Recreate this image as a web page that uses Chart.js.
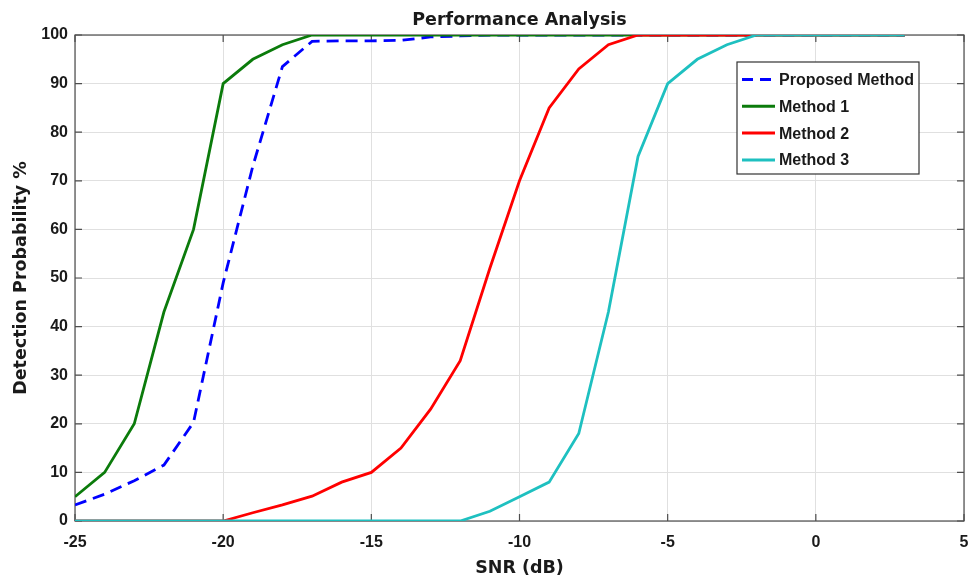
<!DOCTYPE html>
<html><head><meta charset="utf-8">
<script src="https://cdn.jsdelivr.net/npm/chart.js@4.4.1/dist/chart.umd.min.js"></script>
<style>html,body{margin:0;padding:0;background:#fff;}#wrap{width:970px;height:579px;}</style>
</head><body><div id="wrap"><canvas id="c" width="970" height="579"></canvas></div>
<script>
const chartTitle = 'Performance Analysis';
const xTitle = 'SNR (dB)';
const yTitle = 'Detection Probability %';
const seriesNames = ['Proposed Method', 'Method 1', 'Method 2', 'Method 3'];
const snr = [-25,-24,-23,-22,-21,-20,-19,-18,-17,-16,-15,-14,-13,-12,-11,-10,-9,-8,-7,-6,-5,-4,-3,-2,-1,0,1,2,3];
const proposed = [3.3,5.5,8.3,11.5,20.3,49,73,93.5,98.7,98.8,98.8,98.9,99.6,99.8,100,100,100,100,100,100,100,100,100,100,100,100,100,100,100];
const method1  = [5,10,20,43,60,90,95,98,100,100,100,100,100,100,100,100,100,100,100,100,100,100,100,100,100,100,100,100,100];
const method2  = [0,0,0,0,0,0,1.7,3.3,5.1,8,10,15,23,33,52,70,85,93,98,100,100,100,100,100,100,100,100,100,100];
const method3  = [0,0,0,0,0,0,0,0,0,0,0,0,0,0,2,5,8,18,43,75,90,95,98,100,100,100,100,100,100];
const xTicks = [-25,-20,-15,-10,-5,0,5];
const yTicks = [0,10,20,30,40,50,60,70,80,90,100];

const colors = ['#0000ff', '#0b7b0b', '#ff0000', '#1ec0c0'];
const dashes = [[12,7], [], [], []];
const allSeries = [proposed, method1, method2, method3];

const toPts = arr => snr.map((x,i) => ({x, y: arr[i]}));

const frame = {
  id: 'frame',
  beforeDatasetsDraw(chart) {
    const {ctx, chartArea: a, scales: {x, y}} = chart;
    ctx.save();
    ctx.strokeStyle = '#4d4d4d';
    ctx.lineWidth = 1.2;
    ctx.strokeRect(a.left, a.top, a.right - a.left, a.bottom - a.top);
    ctx.beginPath();
    xTicks.forEach(v => {
      const p = x.getPixelForValue(v);
      ctx.moveTo(p, a.bottom); ctx.lineTo(p, a.bottom - 7);
      ctx.moveTo(p, a.top); ctx.lineTo(p, a.top + 7);
    });
    yTicks.forEach(v => {
      const p = y.getPixelForValue(v);
      ctx.moveTo(a.left, p); ctx.lineTo(a.left + 7, p);
      ctx.moveTo(a.right, p); ctx.lineTo(a.right - 7, p);
    });
    ctx.stroke();
    ctx.restore();
  },
  afterDraw(chart) {
    const {ctx, chartArea: a} = chart;
    ctx.save();
    ctx.fillStyle = '#1a1a1a';
    ctx.font = 'bold 17.5px "DejaVu Sans"';
    ctx.textAlign = 'center';
    ctx.textBaseline = 'alphabetic';
    ctx.fillText(chartTitle, (a.left + a.right) / 2, 25);
    const bx = 737, by = 62, bw = 182, bh = 112;
    ctx.fillStyle = '#ffffff';
    ctx.fillRect(bx, by, bw, bh);
    ctx.strokeStyle = '#333333';
    ctx.lineWidth = 1.2;
    ctx.strokeRect(bx, by, bw, bh);
    ctx.font = 'bold 16px "Liberation Sans", Arial, sans-serif';
    ctx.textAlign = 'left';
    ctx.textBaseline = 'middle';
    chart.data.datasets.forEach((ds, i) => {
      const yy = 79.5 + 26.8 * i;
      const dashed = ds.borderDash && ds.borderDash.length;
      ctx.strokeStyle = ds.borderColor;
      ctx.lineWidth = 3;
      ctx.setLineDash(dashed ? [11,7] : []);
      ctx.beginPath();
      ctx.moveTo(742, yy); ctx.lineTo(dashed ? 772 : 775, yy);
      ctx.stroke();
      ctx.setLineDash([]);
      ctx.fillStyle = '#1a1a1a';
      ctx.fillText(ds.label, 779, yy + 1);
    });
    ctx.restore();
  }
};

new Chart(document.getElementById('c'), {
  type: 'line',
  data: {
    datasets: allSeries.map((s, i) => ({
      label: seriesNames[i],
      data: toPts(s),
      borderColor: colors[i],
      backgroundColor: colors[i],
      borderWidth: 2.8,
      borderDash: dashes[i],
      pointRadius: 0,
      tension: 0,
      fill: false,
      order: 3 - i
    }))
  },
  options: {
    responsive: false,
    animation: false,
    devicePixelRatio: 1,
    layout: {padding: {top: 35, right: 6, left: 0, bottom: 0}},
    plugins: {legend: {display: false}, tooltip: {enabled: false}, title: {display: false}},
    scales: {
      x: {
        type: 'linear', min: -25, max: 5,
        afterBuildTicks: s => { s.ticks = xTicks.map(v => ({value: v})); },
        afterFit: s => { s.height = 58; s.paddingLeft = 0; s.paddingRight = 0; },
        grid: {color: '#e0e0e0', lineWidth: 1, drawTicks: false},
        border: {display: false},
        ticks: {color: '#1a1a1a', padding: 12, maxRotation: 0, font: {family: '"Liberation Sans", Arial, sans-serif', size: 16, weight: 'bold'}},
        title: {display: true, text: xTitle, color: '#1a1a1a', padding: {top: 0, bottom: 2},
          font: {family: '"DejaVu Sans"', size: 17.5, weight: 'bold', lineHeight: 1}}
      },
      y: {
        min: 0, max: 100,
        afterBuildTicks: s => { s.ticks = yTicks.map(v => ({value: v})); },
        afterFit: s => { s.width = 75; s.paddingTop = 0; s.paddingBottom = 0; },
        grid: {color: '#e0e0e0', lineWidth: 1, drawTicks: false},
        border: {display: false},
        ticks: {color: '#1a1a1a', padding: 7, font: {family: '"Liberation Sans", Arial, sans-serif', size: 16, weight: 'bold'}},
        title: {display: true, text: yTitle, color: '#1a1a1a', padding: {top: 12.5, bottom: 0},
          font: {family: '"DejaVu Sans"', size: 17.5, weight: 'bold', lineHeight: 1}}
      }
    }
  },
  plugins: [frame]
});
</script></body></html>
